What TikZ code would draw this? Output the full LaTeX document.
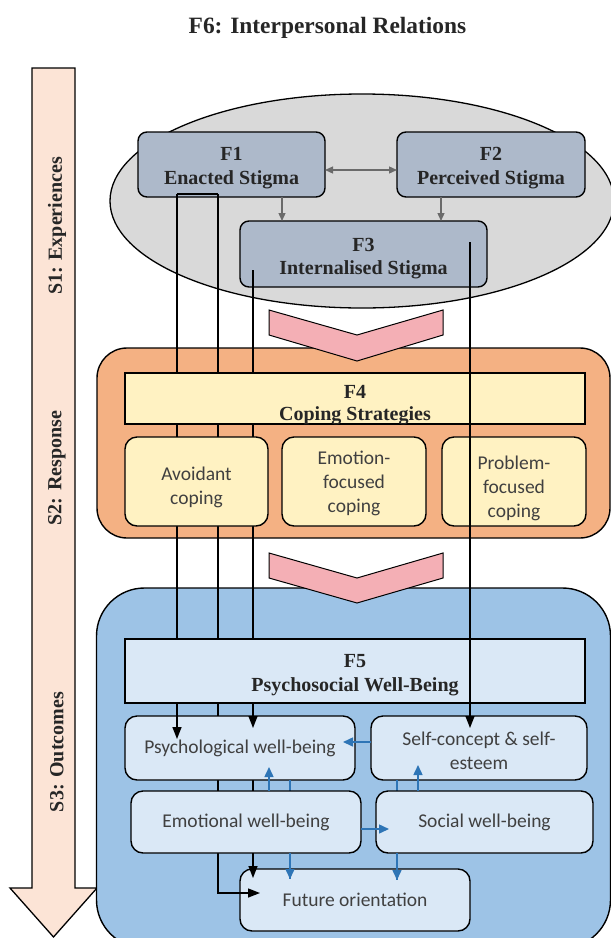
\documentclass[tikz,border=0pt]{standalone}
\usepackage{fontspec}
\setmainfont{Liberation Serif}
\newfontfamily\calfont{Carlito}
\usetikzlibrary{arrows.meta,calc}
\definecolor{ellgray}{HTML}{D9D9D9}
\definecolor{stig}{HTML}{ADB9CA}
\definecolor{orng}{HTML}{F4B183}
\definecolor{yel}{HTML}{FFF2C2}
\definecolor{bluebg}{HTML}{9DC3E6}
\definecolor{lblue}{HTML}{DAE8F6}
\definecolor{pinkc}{HTML}{F4AFB5}
\definecolor{peach}{HTML}{FCE4D6}
\definecolor{barrow}{HTML}{2E75B6}
\definecolor{garrow}{HTML}{6A6A6A}
\definecolor{txtgray}{HTML}{404040}
\definecolor{txtdark}{HTML}{262626}
\begin{document}
\begin{tikzpicture}[x=1pt,y=-1pt,
 boldtxt/.style={font=\bfseries\fontsize{20}{23.5}\selectfont, text=txtdark, align=center, inner sep=0pt},
 caltxt/.style={font=\calfont\fontsize{19.5}{24}\selectfont, text=txtgray, align=center, inner sep=0pt},
 stigbox/.style={draw=black, line width=1.4pt, fill=stig, rounded corners=9pt, inner sep=0pt, outer sep=0pt},
 hdrbox/.style={draw=black, line width=1.4pt, inner sep=0pt, outer sep=0pt},
 subbox/.style={draw=black, line width=1.4pt, rounded corners=12pt, inner sep=0pt, outer sep=0pt, caltxt},
 panel/.style={draw=black, line width=1.4pt, inner sep=0pt, outer sep=0pt},
 ln/.style={draw=black, line width=1.4pt},
 arr/.style={ln, -{Triangle[length=12pt,width=9pt]}},
 bln/.style={draw=barrow, line width=1.5pt},
 barr/.style={bln, -{Triangle[length=10pt,width=9pt]}},
 garr/.style={draw=garrow, line width=1.3pt, -{Triangle[length=8pt,width=7pt]}},
 chev/.style={draw=black, line width=1pt, fill=pinkc},
]
\useasboundingbox (0,0) rectangle (611,938);

% title
\node[font=\bfseries\fontsize{23.4}{28}\selectfont, text=txtdark, anchor=base] (title) at (327.5,33) {F6: Interpersonal Relations};

% stage arrow
\draw[line width=1.3pt, fill=peach] (32,68) -- (75,68) -- (75,888) -- (97,888) -- (53.5,937) -- (10,888) -- (32,888) -- cycle;
\node[boldtxt, rotate=90] (s1) at (57,226) {S1: Experiences};
\node[boldtxt, rotate=90] (s2) at (57,468) {S2: Response};
\node[boldtxt, rotate=90] (s3) at (57,752) {S3: Outcomes};

% background panels
\draw[line width=1.3pt, fill=ellgray] (362,201) ellipse [x radius=252, y radius=107];
\node[panel, fill=orng, rounded corners=30pt, minimum width=513pt, minimum height=190pt] (resp) at (353.5,443) {};
\node[panel, fill=bluebg, rounded corners=48pt, minimum width=514pt, minimum height=360pt] (outc) at (353.5,768) {};

% chevrons
\draw[chev] (269,310) -- (357,335) -- (443,310) -- (443,335) -- (357,361) -- (269,335) -- cycle;
\draw[chev] (269,553) -- (357,578) -- (443,553) -- (443,578) -- (357,603) -- (269,578) -- cycle;

% stigma boxes
\node[stigbox, minimum width=187pt, minimum height=65pt] (F1) at (231.5,164.5) {};
\node[boldtxt] (F1t) at (231.5,168) {F1\\Enacted Stigma};
\node[stigbox, minimum width=188pt, minimum height=65pt] (F2) at (491,164.5) {};
\node[boldtxt] (F2t) at (491,168) {F2\\Perceived Stigma};
\node[stigbox, minimum width=247pt, minimum height=66pt] (F3) at (363.5,254) {};
\node[boldtxt] (F3t) at (363.5,258.5) {F3\\Internalised Stigma};

\coordinate (g1) at (282,0);
\coordinate (g2) at (441,0);
\draw[garr, {Triangle[length=8pt,width=7pt]}-{Triangle[length=8pt,width=7pt]}] ($(F1.east)+(0,5.5)$) -- ($(F2.west)+(0,5.5)$);
\draw[garr] (F1.south -| g1) -- (F3.north -| g1);
\draw[garr] (F2.south -| g2) -- (F3.north -| g2);

% connector coordinates
\coordinate (a1) at (177,194);
\coordinate (a2) at (218,194);
\coordinate (ta) at (177,739);
\coordinate (bc) at (218,893);
\coordinate (tb) at (260,893);
\coordinate (c0) at (253,270);
\coordinate (tc) at (253,728);
\coordinate (tcf) at (253,878);
\coordinate (d0) at (470,242);
\coordinate (td) at (470,728);
\coordinate (te) at (290,879);
\coordinate (tf) at (397,880);
\coordinate (tg) at (343,742);
\coordinate (th) at (269,767);
\coordinate (ti) at (418,765);
\coordinate (tj) at (389,829);

% lines running behind the boxes
\draw[ln] (a1) -- (a2);
\draw[ln] (a1) -- (ta);
\draw[ln] (a2) -- (bc) -- (tb);
\draw[ln] (c0) -- (tcf);

% coping
\node[hdrbox, fill=yel, minimum width=460pt, minimum height=51pt] (F4) at (355,398.5) {};
\node[boldtxt] (F4t) at (355,405.5) {F4\\[-1.5pt]Coping Strategies};
\node[subbox, fill=yel, minimum width=143pt, minimum height=89pt] (avo) at (196.5,481.5) {};
\node[caltxt] (avot) at (196.5,487.5) {Avoidant\\coping};
\node[subbox, fill=yel, minimum width=144pt, minimum height=89pt] (emf) at (354,481.5) {};
\node[caltxt] (emft) at (354,483.5) {Emotion-\\focused\\coping};
\node[subbox, fill=yel, minimum width=144pt, minimum height=89pt] (prf) at (514,481.5) {};
\node[caltxt] (prft) at (514,488.5) {Problem-\\focused\\coping};

% well-being
\node[hdrbox, fill=lblue, minimum width=460pt, minimum height=64pt] (F5) at (355,671) {};
\node[boldtxt] (F5t) at (355,675) {F5\\Psychosocial Well-Being};
\node[subbox, fill=lblue, minimum width=230pt, minimum height=64pt] (psy) at (240,748) {Psychological well-being};
\node[subbox, fill=lblue, minimum width=216pt, minimum height=64pt] (sel) at (479,748) {};
\node[caltxt] (selt) at (479,751) {Self-concept \& self-\\esteem};
\node[subbox, fill=lblue, minimum width=230pt, minimum height=62pt] (fut) at (355,900) {Future orientation};

% blue lines behind emotional / social boxes
\draw[bln] (psy.south -| te) -- (te);
\draw[bln] (sel.south -| tf) -- (tf);

\node[subbox, fill=lblue, minimum width=230pt, minimum height=62pt] (emo) at (246,822) {Emotional well-being};
\node[subbox, fill=lblue, minimum width=217pt, minimum height=62pt] (soc) at (484.5,822) {Social well-being};

% arrow ends on top
\draw[arr] (F5.south -| ta) -- (ta);
\draw[arr] (F5.south -| tc) -- (tc);
\draw[arr] (emo.south -| tcf) -- (tcf);
\draw[arr] (fut.west |- tb) -- (tb);
\draw[arr] (d0) -- (td);

\draw[barr] (emo.south -| te) -- (te);
\draw[barr] (soc.south -| tf) -- (tf);
\draw[barr] (sel.west |- tg) -- (tg);
\draw[barr] (emo.north -| th) -- (th);
\draw[barr] (soc.north -| ti) -- (ti);
\draw[barr] (emo.east |- tj) -- (tj);
\end{tikzpicture}
\end{document}
